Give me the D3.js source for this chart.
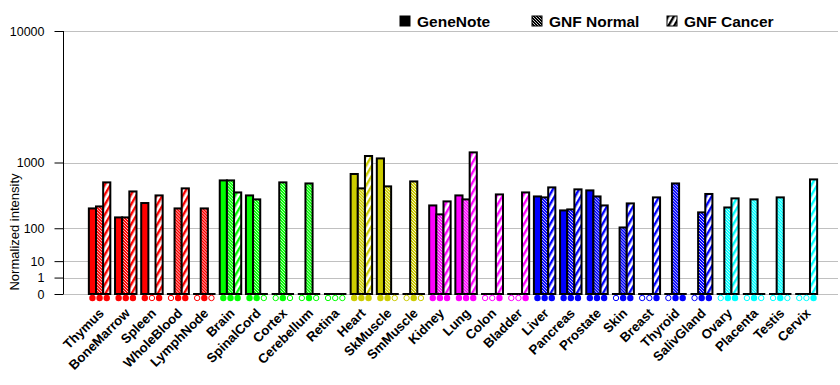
<!DOCTYPE html>
<html>
<head>
<meta charset="utf-8">
<script src="https://cdn.jsdelivr.net/npm/d3@7"></script>
<style>
  body { margin: 0; background: #fff; }
  text { font-family: 'Liberation Sans', Arial, sans-serif; }
</style>
</head>
<body>
<div id="chart"></div>
<script>
const tissues = ['Thymus', 'BoneMarrow', 'Spleen', 'WholeBlood', 'LymphNode',
  'Brain', 'SpinalCord', 'Cortex', 'Cerebellum', 'Retina',
  'Heart', 'SkMuscle', 'SmMuscle',
  'Kidney', 'Lung', 'Colon', 'Bladder',
  'Liver', 'Pancreas', 'Prostate', 'Skin', 'Breast', 'Thyroid', 'SalivGland',
  'Ovary', 'Placenta', 'Testis', 'Cervix']

const systems = ['immune', 'immune', 'immune', 'immune', 'immune',
  'neural', 'neural', 'neural', 'neural', 'neural',
  'muscle', 'muscle', 'muscle',
  'epithelial', 'epithelial', 'epithelial', 'epithelial',
  'gland', 'gland', 'gland', 'gland', 'gland', 'gland', 'gland',
  'reproductive', 'reproductive', 'reproductive', 'reproductive']

const seriesNames = ['GeneNote', 'GNF Normal', 'GNF Cancer']

// null = no data (hollow marker)
const geneNote = [240, 166, 294, null, null, 615, 384, null, null, null, 738, 1107, null,
  269, 384, null, null, 371, 222, 453, null, null, null, null, null, null, null, null]
const gnfNormal = [259, 166, null, 240, 240, 615, 335, 580, 562, null, 483, 514, 597,
  189, 335, null, null, 359, 231, 371, 104, null, 562, 205, 249, 335, 359, null]
const gnfCancer = [580, 438, 384, 483, null, 424, null, null, null, null, 1174, null, null,
  312, 1279, 397, 424, 498, 468, 269, 290, 359, 0, 403, 347, null, null, 633]

const yTicks = [0, 1, 10, 100, 1000, 10000]

const width = 840
const height = 385

const palette = {
  immune: '#ff0000',
  neural: '#00ff00',
  muscle: '#cccc00',
  epithelial: '#ff00ff',
  gland: '#0000ff',
  reproductive: '#00ffff',
  legend: '#000000'
}
const color = k => palette[k]

const svg = d3.select('#chart').append('svg')
  .attr('width', width)
  .attr('height', height)

// each decade gets twice the height of the one below it
const y = d3.scalePow()
  .exponent(Math.log10(2))
  .domain([0, 10000])
  .range([294, 31])

const x = d3.scaleBand()
  .domain(tissues)
  .range([86.5, 819.5])
  .paddingInner(0.18)
  .paddingOuter(0.09)

const xs = d3.scaleBand()
  .domain(seriesNames)
  .range([0, x.bandwidth()])

const defs = svg.append('defs')

function addPatterns (key, c) {
  const pn = defs.append('pattern')
    .attr('id', `normal-${key}`)
    .attr('patternUnits', 'userSpaceOnUse')
    .attr('width', 3).attr('height', 3)
  pn.append('rect').attr('width', 3).attr('height', 3).attr('fill', c)
  pn.append('path').attr('d', 'M0,0 L3,3 M-1,2 L1,4 M2,-1 L4,1')
    .attr('stroke', '#fff').attr('stroke-width', 0.8)

  const pc = defs.append('pattern')
    .attr('id', `cancer-${key}`)
    .attr('patternUnits', 'userSpaceOnUse')
    .attr('width', 5).attr('height', 5)
    .attr('patternTransform', 'rotate(30)')
  pc.append('rect').attr('width', 5).attr('height', 5).attr('fill', '#fff')
  pc.append('rect').attr('width', 2.4).attr('height', 5).attr('fill', c)
}

Object.keys(palette).forEach(k => addPatterns(k, palette[k]))

function fillFor (series, sys) {
  if (series === 0) return color(sys)
  return series === 1 ? `url(#normal-${sys})` : `url(#cancer-${sys})`
}

// grid lines
svg.append('g')
  .selectAll('line')
  .data(yTicks)
  .join('line')
  .attr('x1', 63).attr('x2', 838)
  .attr('y1', d => Math.round(y(d)) + 0.5)
  .attr('y2', d => Math.round(y(d)) + 0.5)
  .attr('stroke', '#c0c0c0')

// y axis
const yAxis = svg.append('g')
  .attr('transform', 'translate(63.5,0)')
  .call(d3.axisLeft(y).tickValues(yTicks).tickSize(9).tickPadding(10).tickFormat(d3.format('d')))
yAxis.select('.domain').attr('stroke', '#000').attr('d', `M0,${y(10000)}V${y(0)}`)
yAxis.selectAll('.tick line').attr('stroke', '#000')
yAxis.selectAll('.tick text')
  .attr('font-size', 12.5)
  .attr('font-family', "'Liberation Sans', Arial, sans-serif")
  .attr('fill', '#000')

svg.append('text')
  .attr('transform', 'translate(19,232) rotate(-90)')
  .attr('text-anchor', 'middle')
  .attr('font-size', 13)
  .text('Normalized intensity')

const rows = tissues.map((t, i) => ({
  tissue: t,
  sys: systems[i],
  values: [geneNote[i], gnfNormal[i], gnfCancer[i]]
}))

const groups = svg.append('g')
  .selectAll('g')
  .data(rows)
  .join('g')
  .attr('transform', d => `translate(${x(d.tissue)},0)`)

// black baseline under each group
groups.append('line')
  .attr('x1', -0.5).attr('x2', x.bandwidth() + 0.5)
  .attr('y1', y(0)).attr('y2', y(0))
  .attr('stroke', '#000').attr('stroke-width', 2)

groups.selectAll('rect.bar')
  .data(d => d.values.map((v, s) => ({ v, s, sys: d.sys })).filter(e => e.v != null && e.v > 0))
  .join('rect')
  .attr('class', 'bar')
  .attr('x', e => xs(seriesNames[e.s]))
  .attr('width', xs.bandwidth())
  .attr('y', e => y(e.v))
  .attr('height', e => y(0) - y(e.v))
  .attr('fill', e => fillFor(e.s, e.sys))
  .attr('stroke', '#000')
  .attr('stroke-width', 2)

// presence markers
groups.selectAll('circle')
  .data(d => d.values.map((v, s) => ({ v, s, sys: d.sys })))
  .join('circle')
  .attr('cx', e => xs(seriesNames[e.s]) + xs.bandwidth() / 2)
  .attr('cy', 298)
  .attr('r', e => e.v != null ? 3.2 : 2.7)
  .attr('fill', e => e.v != null ? color(e.sys) : '#fff')
  .attr('stroke', e => color(e.sys))
  .attr('stroke-width', e => e.v != null ? 0 : 1)

// x labels
svg.append('g')
  .selectAll('text')
  .data(tissues)
  .join('text')
  .attr('transform', d => `translate(${x(d) + x.bandwidth() / 2 + 5},314) rotate(-45)`)
  .attr('text-anchor', 'end')
  .attr('font-size', 13.2)
  .attr('font-weight', 'bold')
  .text(d => d)

// legend
const legendX = [400, 532, 667]
const legend = svg.append('g')
  .selectAll('g')
  .data(seriesNames)
  .join('g')
  .attr('transform', (d, i) => `translate(${legendX[i]},16)`)
legend.append('rect')
  .attr('width', 10).attr('height', 10)
  .attr('fill', (d, i) => fillFor(i, 'legend'))
  .attr('stroke', '#000')
  .attr('stroke-width', 1)
legend.append('text')
  .attr('x', 17).attr('y', 10.5)
  .attr('font-size', 15.5)
  .attr('font-weight', 'bold')
  .text(d => d)
</script>
</body>
</html>
